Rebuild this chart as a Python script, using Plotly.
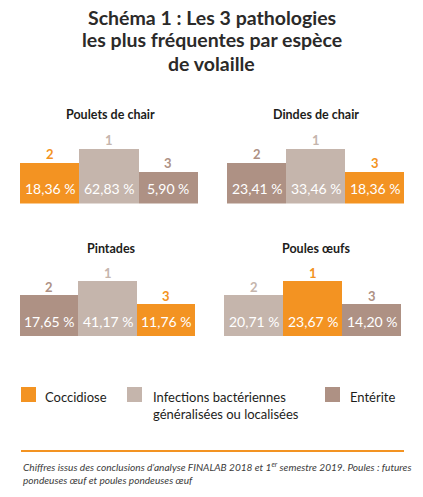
import plotly.graph_objects as go

# ---------------- data ----------------
title_lines = ["Schéma 1 : Les 3 pathologies", "les plus fréquentes par espèce", "de volaille"]
species = ["Poulets de chair", "Dindes de chair", "Pintades", "Poules œufs"]
pathologies = ["Coccidiose", "Infections bactériennes<br>généralisées ou localisées", "Entérite"]

poulets_path = ["Coccidiose", "Infections", "Entérite"]
poulets_rank = [2, 1, 3]
poulets_vals = [18.36, 62.83, 5.90]

dindes_path = ["Entérite", "Infections", "Coccidiose"]
dindes_rank = [2, 1, 3]
dindes_vals = [23.41, 33.46, 18.36]

pintades_path = ["Entérite", "Infections", "Coccidiose"]
pintades_rank = [2, 1, 3]
pintades_vals = [17.65, 41.17, 11.76]

poules_path = ["Infections", "Coccidiose", "Entérite"]
poules_rank = [2, 1, 3]
poules_vals = [20.71, 23.67, 14.20]

footnote = ("Chiffres issus des conclusions d’analyse FINALAB 2018 et 1<sup>er</sup> semestre 2019. Poules : futures"
            "<br>pondeuses œuf et poules pondeuses œuf")

# ---------------- styling ----------------
W, H = 423, 497
COL = {"Coccidiose": "#F39322", "Infections": "#C5B5AC", "Entérite": "#AE9184"}
LEGEND_KEYS = ["Coccidiose", "Infections", "Entérite"]
RANK_H = {1: 55, 2: 41.5, 3: 32}  # bar height (px) by rank (the chart shows a podium)
FONT = "Lato"


def px_x(v):
    return v / W


def px_y(v):
    return 1 - v / H


panels = [
    dict(path=poulets_path, rank=poulets_rank, vals=poulets_vals, x0=20, x1=198, yb=203.5, tx=110, ty=115),
    dict(path=dindes_path, rank=dindes_rank, vals=dindes_vals, x0=227, x1=404, yb=203.5, tx=316, ty=115),
    dict(path=pintades_path, rank=pintades_rank, vals=pintades_vals, x0=20, x1=195, yb=336, tx=111, ty=249),
    dict(path=poules_path, rank=poules_rank, vals=poules_vals, x0=224, x1=401, yb=336, tx=316, ty=249),
]

fig = go.Figure()
annotations = []
layout_axes = {}
YR = 70

for i, (p, name) in enumerate(zip(panels, species)):
    k = "" if i == 0 else str(i + 1)
    heights = [RANK_H[r] for r in p["rank"]]
    colors = [COL[c] for c in p["path"]]
    fig.add_trace(go.Bar(
        x=[0, 1, 2], y=heights, width=1, marker=dict(color=colors, line=dict(width=0)),
        xaxis="x" + k, yaxis="y" + k, showlegend=False, hoverinfo="skip",
    ))
    layout_axes["xaxis" + k] = dict(domain=[px_x(p["x0"]), px_x(p["x1"])], range=[-0.5, 2.5],
                                    visible=False, fixedrange=True, anchor="y" + k)
    layout_axes["yaxis" + k] = dict(domain=[px_y(p["yb"]), px_y(p["yb"] - YR)], range=[0, YR],
                                    visible=False, fixedrange=True, anchor="x" + k)
    # panel title
    annotations.append(dict(x=px_x(p["tx"]), y=px_y(p["ty"]), xref="paper", yref="paper",
                            text="<b>%s</b>" % name, showarrow=False, xanchor="center", yanchor="middle",
                            font=dict(family=FONT, size=12.5, color="#1D1D1B")))
    for j in range(3):
        annotations.append(dict(x=j, y=14.5, xref="x" + k, yref="y" + k,
                                text=("%.2f %%" % p["vals"][j]).replace(".", ","),
                                showarrow=False, xanchor="center", yanchor="middle",
                                font=dict(family=FONT, size=14, color="white")))
        annotations.append(dict(x=j, y=heights[j] + 8, xref="x" + k, yref="y" + k,
                                text="<b>%d</b>" % p["rank"][j], showarrow=False,
                                xanchor="center", yanchor="middle",
                                font=dict(family=FONT, size=13, color=colors[j])))

# main title
for li, (line, yy) in enumerate(zip(title_lines, [17, 40, 63])):
    annotations.append(dict(x=0.5, y=px_y(yy), xref="paper", yref="paper", text="<b>%s</b>" % line,
                            showarrow=False, xanchor="center", yanchor="middle",
                            font=dict(family=FONT, size=19.5, color="#2B2A29")))

# legend
shapes = []
leg_sq_x = [21, 127, 325]
leg_txt_x = [43, 151, 348]
for key, label, sx, tx in zip(LEGEND_KEYS, pathologies, leg_sq_x, leg_txt_x):
    shapes.append(dict(type="rect", xref="paper", yref="paper", x0=px_x(sx), x1=px_x(sx + 15),
                       y0=px_y(402), y1=px_y(387), fillcolor=COL[key], line=dict(width=0)))
    annotations.append(dict(x=px_x(tx), y=px_y(386.5), xref="paper", yref="paper", text=label,
                            showarrow=False, xanchor="left", yanchor="top", align="left",
                            font=dict(family=FONT, size=13, color="#1D1D1B")))

# separator line
shapes.append(dict(type="line", xref="paper", yref="paper", x0=px_x(21), x1=px_x(404),
                   y0=px_y(451), y1=px_y(451), line=dict(color="#F39322", width=2)))

# footnote
annotations.append(dict(x=px_x(21), y=px_y(458), xref="paper", yref="paper", text="<i>%s</i>" % footnote,
                        showarrow=False, xanchor="left", yanchor="top", align="left",
                        font=dict(family=FONT, size=10.1, color="#3C3C3B")))

fig.update_layout(
    width=W, height=H, margin=dict(l=0, r=0, t=0, b=0),
    paper_bgcolor="white", plot_bgcolor="white",
    annotations=annotations, shapes=shapes, bargap=0, **layout_axes,
)

fig.write_html("out.html", config={"displayModeBar": False},
               post_script="document.body.style.margin='0';document.body.style.overflow='hidden';")
